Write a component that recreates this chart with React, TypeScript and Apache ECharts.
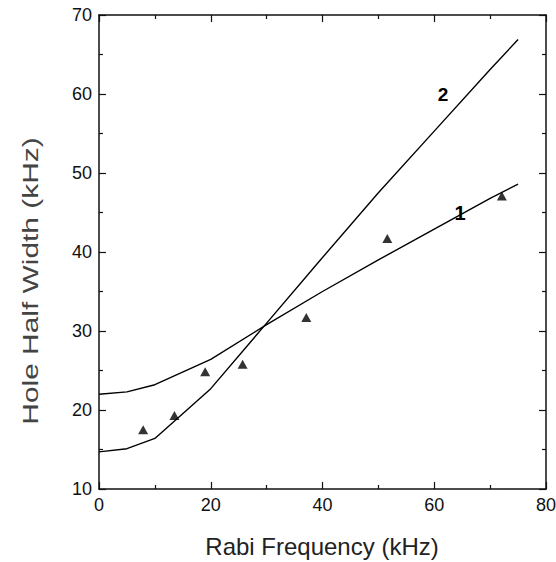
import React, { useEffect, useRef } from "react";
import * as echarts from "echarts";

const xKnots = [0, 5, 10, 20, 30, 40, 50, 60, 70, 75];
const curve1 = [22.0, 22.3, 23.2, 26.4, 30.8, 35.0, 39.0, 42.9, 46.8, 48.6];
const curve2 = [14.7, 15.1, 16.4, 22.7, 31.0, 39.3, 47.5, 55.3, 63.1, 66.9];
const expX = [7.9, 13.5, 19.0, 25.7, 37.1, 51.6, 72.1];
const expY = [17.5, 19.3, 24.85, 25.8, 31.7, 41.7, 47.1];
const xTitle = "Rabi Frequency (kHz)";
const yTitle = "Hole Half Width (kHz)";
const curveLabels = ["1", "2"];

const FONT = "'Liberation Sans', Arial, Helvetica, sans-serif";
const INK = "#000";

function axisBase(showLabels: boolean) {
  return {
    type: "value" as const,
    axisLine: { show: true, onZero: false, lineStyle: { color: "#111", width: 1.5 } },
    axisTick: { show: true, inside: true, length: 7, lineStyle: { color: "#111", width: 1.2 } },
    minorTick: { show: true, splitNumber: 2, length: 4, lineStyle: { color: "#111", width: 1.2 } },
    splitLine: { show: false },
    minorSplitLine: { show: false },
    axisLabel: { show: showLabels, fontSize: 18, color: "#111", fontFamily: FONT, margin: 7 },
  };
}

export default function App() {
  const ref = useRef<HTMLDivElement>(null);
  useEffect(() => {
    if (!ref.current) return;
    const chart = echarts.init(ref.current, undefined, { renderer: "svg" });
    const xAxisCfg = { min: 0, max: 80, interval: 20 };
    const yAxisCfg = { min: 10, max: 70, interval: 10 };
    chart.setOption({
      animation: false,
      backgroundColor: "#fff",
      grid: { left: 99, right: 10, top: 15, bottom: 73, containLabel: false, outerBoundsMode: "none" },
      xAxis: [
        { ...axisBase(true), ...xAxisCfg, position: "bottom" },
        { ...axisBase(false), ...xAxisCfg, position: "top" },
      ],
      yAxis: [
        { ...axisBase(true), ...yAxisCfg, position: "left" },
        { ...axisBase(false), ...yAxisCfg, position: "right" },
      ],
      series: [
        {
          type: "line",
          name: curveLabels[0],
          data: xKnots.map((x, i) => [x, curve1[i]]),
          symbol: "none",
          lineStyle: { color: INK, width: 1.4 },
        },
        {
          type: "line",
          name: curveLabels[1],
          data: xKnots.map((x, i) => [x, curve2[i]]),
          symbol: "none",
          lineStyle: { color: INK, width: 1.4 },
        },
        {
          type: "scatter",
          data: expX.map((x, i) => [x, expY[i]]),
          symbol: "triangle",
          symbolSize: [10, 9],
          itemStyle: { color: INK },
        },
      ],
      graphic: [
        {
          type: "text",
          x: 322,
          y: 546,
          style: { text: xTitle, fontSize: 24, fontFamily: FONT, fill: "#222", textAlign: "center", textVerticalAlign: "middle" },
        },
        {
          type: "text",
          x: 30,
          y: 281,
          rotation: Math.PI / 2,
          scaleX: 1.3,
          scaleY: 0.95,
          style: { text: yTitle, fontSize: 23, fontFamily: FONT, fill: "#444", textAlign: "center", textVerticalAlign: "middle" },
        },
        {
          type: "text",
          x: 460,
          y: 213,
          style: { text: curveLabels[0], fontSize: 20, fontWeight: "bold", fontFamily: FONT, fill: INK, textAlign: "center", textVerticalAlign: "middle" },
        },
        {
          type: "text",
          x: 443,
          y: 94,
          style: { text: curveLabels[1], fontSize: 19, fontWeight: "bold", fontFamily: FONT, fill: INK, textAlign: "center", textVerticalAlign: "middle" },
        },
      ],
    });
    return () => chart.dispose();
  }, []);
  return <div ref={ref} style={{ position: "fixed", left: 0, top: 0, width: 556, height: 562 }} />;
}
